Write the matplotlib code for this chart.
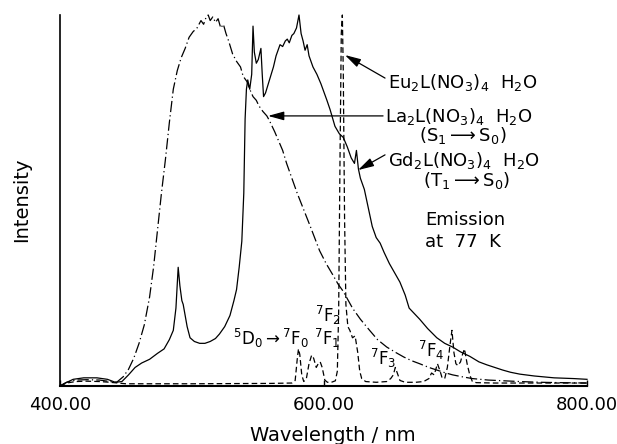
import matplotlib
matplotlib.use("Agg")
import matplotlib.pyplot as plt

# La2L(NO3)4 H2O, S1 -> S0 (dash-dot)
la_wl = [400, 405, 412, 420, 430, 438, 443, 448, 452, 456, 460, 464, 468, 471, 474, 477, 480, 483, 486,
         489, 492, 495, 498, 501, 504, 507, 509, 511, 512.5, 514, 516, 518, 520, 522, 524, 526, 528, 531,
         534, 537, 539, 542, 544, 546.5, 549, 551, 554, 557, 559, 563, 566, 569, 572, 576, 580, 585, 590,
         597, 602, 607, 611, 615, 622, 628, 635, 641, 648, 655, 661, 667, 673, 680, 686, 692, 698, 705,
         713, 725, 737, 749, 765, 780, 800]
la_int = [0.0, 0.01, 0.016, 0.017, 0.016, 0.012, 0.01, 0.025, 0.045, 0.075, 0.115, 0.165, 0.24, 0.32,
          0.42, 0.52, 0.61, 0.71, 0.80, 0.85, 0.885, 0.91, 0.94, 0.955, 0.965, 0.985, 0.975, 0.995, 1.0,
          0.985, 0.995, 0.98, 0.99, 0.965, 0.975, 0.95, 0.93, 0.895, 0.875, 0.86, 0.835, 0.82, 0.80, 0.78,
          0.77, 0.755, 0.74, 0.728, 0.715, 0.685, 0.66, 0.635, 0.60, 0.56, 0.52, 0.475, 0.43, 0.365, 0.33,
          0.30, 0.275, 0.255, 0.21, 0.18, 0.15, 0.125, 0.105, 0.09, 0.078, 0.068, 0.06, 0.05, 0.043, 0.036,
          0.03, 0.025, 0.02, 0.016, 0.014, 0.012, 0.01, 0.009, 0.008]

# Gd2L(NO3)4 H2O, T1 -> S0 (solid)
gd_wl = [400, 404, 410, 418, 428, 436, 442, 447, 452, 457, 462, 468, 474, 479, 483, 486, 488, 489.7, 491,
         492.5, 493.5, 495, 496.5, 498.7, 502, 506, 510, 514, 518, 521, 525, 529, 532, 534, 536, 538, 539.5,
         540.5, 541.5, 542.5, 544, 545.5, 546.5, 547.5, 549, 550.5, 552.5, 553.5, 554.5, 556, 559, 562, 564,
         567, 569, 571, 572.5, 574, 576, 577.5, 579.5, 581.4, 583, 584.5, 586, 587.6, 589, 592, 595, 598,
         602.6, 605, 608.7, 612, 615, 618, 621, 623.5, 625, 626.5, 628, 631, 634, 637, 640, 643, 646, 650,
         654, 658, 662, 665, 669, 673, 679, 686, 692, 698, 704, 711, 718, 724, 730, 736, 742, 749, 760, 775,
         790, 800]
gd_int = [0.0, 0.008, 0.018, 0.022, 0.022, 0.018, 0.01, 0.012, 0.03, 0.05, 0.062, 0.072, 0.088, 0.10,
          0.125, 0.15, 0.21, 0.32, 0.27, 0.23, 0.22, 0.19, 0.16, 0.13, 0.12, 0.115, 0.115, 0.12, 0.128,
          0.14, 0.16, 0.19, 0.23, 0.26, 0.32, 0.39, 0.52, 0.72, 0.80, 0.825, 0.80, 0.84, 0.97, 0.90, 0.87,
          0.88, 0.91, 0.84, 0.78, 0.79, 0.825, 0.86, 0.89, 0.92, 0.915, 0.93, 0.935, 0.925, 0.945, 0.95,
          0.965, 1.0, 0.95, 0.93, 0.905, 0.92, 0.89, 0.86, 0.84, 0.815, 0.77, 0.745, 0.70, 0.68, 0.67,
          0.645, 0.615, 0.60, 0.635, 0.585, 0.56, 0.53, 0.48, 0.43, 0.40, 0.385, 0.36, 0.33, 0.305, 0.28,
          0.245, 0.21, 0.195, 0.18, 0.155, 0.13, 0.115, 0.105, 0.092, 0.08, 0.065, 0.057, 0.05, 0.043,
          0.037, 0.032, 0.027, 0.022, 0.02, 0.018]

# Eu2L(NO3)4 H2O, 5D0 -> 7FJ (dashed)
eu_wl = [400, 405, 412, 420, 430, 438, 444, 450, 500, 560, 576, 578.5, 580, 581, 582, 583.5, 585, 587, 589,
         591, 592.5, 594.5, 596, 597.5, 599, 601, 603, 606, 609, 610.5, 611.5, 612.5, 613.5, 614.3, 615,
         616, 617, 618.5, 620, 622, 624, 626, 627.5, 629, 632, 640, 648, 651, 653, 654.5, 656, 658, 662,
         670, 676, 680, 682, 684, 686.5, 688.5, 690, 692, 694, 696, 697.5, 699, 700.5, 702, 704, 705.5,
         707, 709, 711, 713, 716, 730, 760, 800]
eu_int = [0.0, 0.008, 0.012, 0.013, 0.012, 0.01, 0.008, 0.006, 0.006, 0.007, 0.008, 0.015, 0.07, 0.10,
          0.085, 0.03, 0.012, 0.02, 0.06, 0.083, 0.075, 0.05, 0.06, 0.065, 0.05, 0.016, 0.01, 0.01, 0.014,
          0.04, 0.2, 0.6, 0.95, 1.0, 0.85, 0.45, 0.22, 0.16, 0.15, 0.13, 0.135, 0.09, 0.04, 0.02, 0.012,
          0.01, 0.012, 0.02, 0.03, 0.05, 0.035, 0.015, 0.01, 0.01, 0.012, 0.02, 0.035, 0.03, 0.06, 0.04,
          0.022, 0.02, 0.05, 0.11, 0.15, 0.09, 0.06, 0.055, 0.065, 0.085, 0.10, 0.06, 0.03, 0.012, 0.009,
          0.008, 0.008, 0.008]

X_TICKS = [400, 600, 800]

fig = plt.figure(figsize=(6.17, 4.44), dpi=100)
ax = fig.add_axes([60 / 617, 1 - 386 / 444, 527 / 617, 371 / 444])

kw = dict(color="k", lw=0.9, clip_on=False)
ax.plot(la_wl, la_int, ls=(0, (9, 2.5, 1, 2.5)), **kw)
ax.plot(gd_wl, gd_int, ls="-", **kw)
ax.plot(eu_wl, eu_int, ls=(0, (4.5, 2.5)), **kw)

ax.set_xlim(400, 800)
ax.set_ylim(0, 1.0)
ax.set_xticks(X_TICKS)
ax.set_xticklabels([f"{v:.2f}" for v in X_TICKS])
ax.set_yticks([])
ax.tick_params(axis="x", direction="in", length=4, width=1, labelsize=13, pad=7)
for s in ["top", "right"]:
    ax.spines[s].set_visible(False)
ax.spines["bottom"].set_linewidth(1.5)
ax.spines["left"].set_linewidth(1.2)

fig.text(333 / 617, 1 - 435 / 444, "Wavelength / nm", fontsize=14, ha="center", va="center")
fig.text(22 / 617, 1 - 200 / 444, "Intensity", fontsize=14, rotation=90, ha="center", va="center")

# compound labels with arrows
ap = dict(arrowstyle="-|>,head_length=0.8,head_width=0.22", color="k", lw=0.9,
          shrinkA=0, shrinkB=0, mutation_scale=12)
ax.annotate("", xy=(616.3, 0.892), xytext=(646.7, 0.830), arrowprops=ap)
ax.annotate("", xy=(557.9, 0.728), xytext=(645.2, 0.728), arrowprops=ap)
ax.annotate("", xy=(626.2, 0.582), xytext=(646.7, 0.623), arrowprops=ap)

tk = dict(fontsize=13, va="baseline", ha="left")
ax.text(649.0, 0.803, r"Eu$_2$L(NO$_3$)$_4$  H$_2$O", **tk)
ax.text(646.7, 0.712, r"La$_2$L(NO$_3$)$_4$  H$_2$O", **tk)
ax.text(672.5, 0.660, r"(S$_1$$\longrightarrow$S$_0$)", **tk)
ax.text(649.0, 0.593, r"Gd$_2$L(NO$_3$)$_4$  H$_2$O", **tk)
ax.text(675.5, 0.539, r"(T$_1$$\longrightarrow$S$_0$)", **tk)
ax.text(677.0, 0.434, "Emission", **tk)
ax.text(677.0, 0.375, "at  77  K", **tk)

# Eu transition labels
tl = dict(fontsize=12, va="baseline", ha="left")
ax.text(531.5, 0.110, r"$^5$D$_0$$\rightarrow$$^7$F$_0$", **tl)
ax.text(593.0, 0.110, r"$^7$F$_1$", **tl)
ax.text(593.5, 0.172, r"$^7$F$_2$", **tl)
ax.text(635.3, 0.057, r"$^7$F$_3$", **tl)
ax.text(671.7, 0.078, r"$^7$F$_4$", **tl)

fig.savefig("out.png", dpi=100)
